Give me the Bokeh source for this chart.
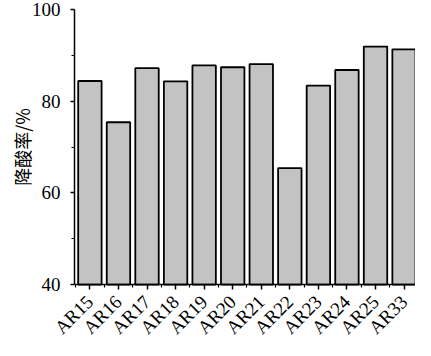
import math
from bokeh.plotting import figure
from bokeh.models import Range1d, FixedTicker, ColumnDataSource, Label
from bokeh.embed import file_html
from bokeh.resources import INLINE

categories = ["AR15", "AR16", "AR17", "AR18", "AR19", "AR20", "AR21", "AR22", "AR23", "AR24", "AR25", "AR33"]
values = [84.4, 75.4, 87.2, 84.3, 87.8, 87.4, 88.1, 65.4, 83.4, 86.8, 91.9, 91.3]
y_ticks = [40, 60, 80, 100]
y_minor = [50, 70, 90]
y_title = "降酸率/%"

xs = list(range(len(categories)))
src = ColumnDataSource(dict(x=xs, top=values, cat=categories))

# layout constants (axis positions in data space)
x_lo, x_hi = -0.54, 11.40      # extent of the axes box
x_view_lo = -3.13              # extra room on the left for the y-axis texts
y_base, y_top = y_ticks[0], y_ticks[-1]
y_view_lo, y_view_hi = 27.8, 101.96   # extra room for rotated labels / top tick label

p = figure(width=415, height=340, output_backend="svg", toolbar_location=None,
           x_range=Range1d(x_view_lo, x_hi), y_range=Range1d(y_view_lo, y_view_hi),
           min_border_left=0, min_border_right=0, min_border_top=0, min_border_bottom=0)
p.outline_line_color = None
p.xgrid.visible = False
p.ygrid.visible = False
p.background_fill_color = "white"
p.border_fill_color = "white"

p.vbar(x="x", top="top", bottom=y_base, width=0.82, source=src,
       fill_color="#c3c3c3", line_color="black", line_width=1.8)

font = "Liberation Serif"

xa = p.xaxis[0]
xa.fixed_location = y_base
xa.bounds = (x_lo, x_hi)
xa.ticker = FixedTicker(ticks=xs, minor_ticks=[i + 0.5 for i in range(-1, len(xs))])
xa.major_label_overrides = {i: c for i, c in enumerate(categories)}
xa.major_label_orientation = math.pi / 4
xa.major_label_text_font = font
xa.major_label_text_font_size = "19px"
xa.major_label_text_color = "black"
xa.major_label_standoff = 9
xa.axis_line_width = 1.5
xa.axis_line_color = "black"
xa.major_tick_out = 5
xa.major_tick_in = 0
xa.minor_tick_out = 3
xa.minor_tick_in = 0
xa.major_tick_line_width = 1.5
xa.minor_tick_line_width = 1.2

ya = p.yaxis[0]
ya.fixed_location = x_lo
ya.bounds = (y_base, y_top)
ya.ticker = FixedTicker(ticks=y_ticks, minor_ticks=y_minor)
ya.major_label_text_font = font
ya.major_label_text_font_size = "19px"
ya.major_label_text_color = "black"
ya.major_label_standoff = 10
ya.axis_line_width = 1.5
ya.axis_line_color = "black"
ya.major_tick_out = 4
ya.major_tick_in = 0
ya.minor_tick_out = 3
ya.minor_tick_in = 0
ya.major_tick_line_width = 1.5
ya.minor_tick_line_width = 1.2

p.add_layout(Label(x=x_view_lo + 0.74, y=(y_base + y_top) / 2, text=y_title,
                   angle=math.pi / 2, text_align="center", text_baseline="middle",
                   text_font="Noto Sans CJK SC", text_font_size="18px", text_color="black"))

open("out.html", "w").write(file_html(p, INLINE))
